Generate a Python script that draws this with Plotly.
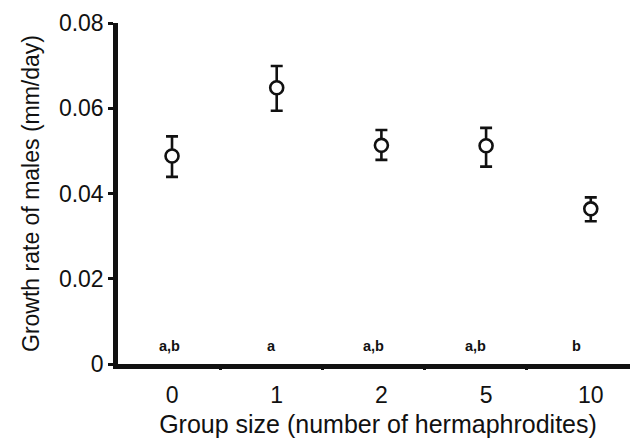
import plotly.graph_objects as go

# Data
categories = ["0", "1", "2", "5", "10"]
growth = [0.0488, 0.0648, 0.0513, 0.0512, 0.0364]
err_plus = [0.0046, 0.0051, 0.0036, 0.0042, 0.0027]
err_minus = [0.0049, 0.0054, 0.0034, 0.0049, 0.0029]
letters = ["a,b", "a", "a,b", "a,b", "b"]
y_ticks = [0, 0.02, 0.04, 0.06, 0.08]
y_ticktext = ["0", "0.02", "0.04", "0.06", "0.08"]

idx = list(range(len(categories)))
mid = [i + 0.5 for i in idx[:-1]]

FONT = "Liberation Sans, Arial, sans-serif"

fig = go.Figure()
fig.add_trace(go.Scatter(
    x=idx, y=growth, mode="markers",
    marker=dict(symbol="circle", size=13, color="white",
                line=dict(color="#111", width=2.6)),
    error_y=dict(type="data", symmetric=False, array=err_plus,
                 arrayminus=err_minus, color="#111", thickness=2.6, width=6),
    showlegend=False, cliponaxis=False,
))
# invisible trace to activate secondary x axis (letters & divider ticks)
fig.add_trace(go.Scatter(x=idx, y=[None] * len(idx), xaxis="x2",
                         showlegend=False, hoverinfo="skip"))

for i, t in zip(idx, letters):
    fig.add_annotation(x=i, y=0.0042, xref="x2", yref="y",
                       text="<b>" + t + "</b>", showarrow=False,
                       font=dict(family=FONT, size=14.5, color="#111"))

fig.update_layout(
    width=630, height=430,
    margin=dict(l=110, r=0, t=15, b=67),
    paper_bgcolor="white", plot_bgcolor="white",
    font=dict(family=FONT, color="#111"),
    xaxis=dict(
        range=[-0.516, 4.451], tickvals=idx, ticktext=categories,
        ticks="", showline=True, linecolor="#111", linewidth=4.5,
        showgrid=False, zeroline=False, ticklabelstandoff=7,
        tickfont=dict(size=23, color="#111"),
        title=dict(text="Group size (number of hermaphrodites)",
                   font=dict(size=25, color="#111"), standoff=12),
    ),
    xaxis2=dict(
        overlaying="x", side="bottom", range=[-0.511, 4.60],
        tickvals=mid, ticks="outside", ticklen=5, tickwidth=3,
        tickcolor="#111", showticklabels=False, showgrid=False,
        zeroline=False, showline=False,
    ),
    yaxis=dict(
        range=[0, 0.08], tickvals=y_ticks, ticktext=y_ticktext,
        ticks="outside", ticklen=5, tickwidth=3, tickcolor="#111",
        showline=True, linecolor="#111", linewidth=4.5,
        showgrid=False, zeroline=False,
        tickfont=dict(size=23, color="#111"),
        title=dict(text="Growth rate of males (mm/day)",
                   font=dict(size=23, color="#111"), standoff=14),
    ),
)

fig.write_html("out.html")
